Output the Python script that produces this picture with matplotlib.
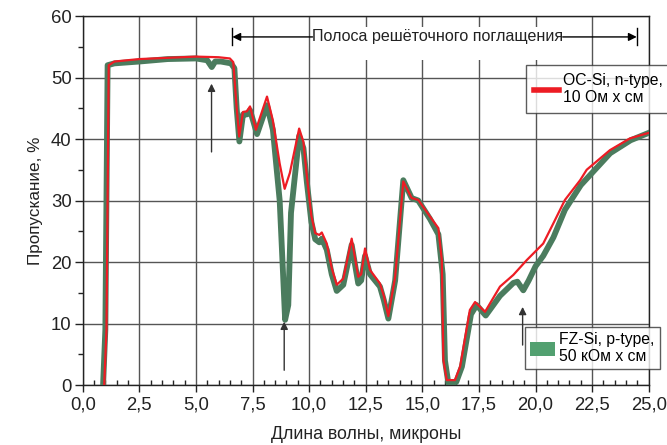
import matplotlib
matplotlib.use('Agg')
import matplotlib.pyplot as plt
from matplotlib.lines import Line2D
from matplotlib.patches import Patch, Rectangle
from matplotlib.ticker import MultipleLocator

plt.rcParams['font.family'] = ['Liberation Sans', 'DejaVu Sans']

# ===== DATA =====
# OC-Si, n-type, 10 Ohm*cm
oc_x = [0.95, 1.05, 1.15, 1.4, 2.5, 3.75, 5.0, 6.0, 6.5, 6.65, 6.78, 6.91, 7.08, 7.25,
        7.39, 7.65, 8.14, 8.4, 8.7, 8.92, 9.15, 9.56, 9.75, 9.9, 10.1, 10.27, 10.45,
        10.56, 10.78, 11.0, 11.22, 11.51, 11.88, 12.17, 12.3, 12.47, 12.69, 13.13,
        13.3, 13.5, 13.8, 14.16, 14.53, 14.82, 15.34, 15.71, 15.86, 15.93, 16.08,
        16.44, 16.67, 17.1, 17.33, 17.77, 18.43, 19.02, 19.61, 20.34, 20.79, 21.3,
        21.97, 22.26, 23.29, 24.17, 25.0]
oc_y = [0, 9, 52.0, 52.6, 53.0, 53.2, 53.4, 53.3, 53.1, 52.5, 46, 40.4, 44.4, 44.5,
        45.3, 41.5, 46.9, 43.0, 36.0, 31.9, 34.5, 41.7, 39.5, 34.0, 27.5, 24.7, 24.4,
        24.8, 23.0, 19.0, 16.3, 17.3, 23.8, 17.6, 18.0, 22.2, 18.7, 16.5,
        14.5, 11.2, 17.6, 33.1, 30.4, 30.1, 27.4, 25.5, 20.3, 4.1, 0.8,
        0.8, 3.0, 12.2, 13.5, 11.9, 16.0, 17.9, 20.3, 23.0, 26.3, 30.1,
        33.3, 35.0, 38.2, 40.1, 41.0]

# FZ-Si, p-type, 50 kOhm*cm
fz_x = [0.9, 1.0, 1.1, 1.4, 2.5, 3.75, 5.0, 5.5, 5.7, 5.85, 6.1, 6.55, 6.7, 6.8, 6.92,
        7.08, 7.25, 7.39, 7.7, 8.14, 8.4, 8.7, 8.85, 8.94, 9.08, 9.2, 9.56, 9.75,
        9.9, 10.1, 10.27, 10.45, 10.56, 10.78, 11.0, 11.22, 11.51, 11.88, 12.17,
        12.3, 12.47, 12.69, 13.13, 13.3, 13.5, 13.8, 14.16, 14.53, 14.82, 15.34,
        15.71, 15.9, 16.0, 16.15, 16.5, 16.75, 17.15, 17.4, 17.8, 18.43, 19.02,
        19.2, 19.46, 19.7, 20.0, 20.34, 20.79, 21.3, 22.0, 22.5, 23.3, 24.2, 25.0]
fz_y = [0, 9, 52.0, 52.3, 52.6, 53.0, 53.1, 52.8, 51.7, 52.6, 52.6, 52.3, 51.5, 45, 39.6,
        44.0, 44.0, 44.7, 40.8, 45.5, 41.5, 30.0, 18.0, 10.6, 13.0, 28.0, 40.5, 38.5,
        33.0, 26.5, 23.7, 23.2, 23.8, 22.0, 18.0, 15.3, 16.3, 22.8, 16.5,
        17.0, 21.0, 18.0, 16.0, 13.8, 10.8, 17.0, 33.3, 30.4, 30.0, 27.0,
        24.5, 18.0, 4.0, 0.3, 0.5, 3.0, 11.5, 13.0, 11.3, 14.5, 16.6,
        16.8, 15.4, 17.0, 19.3, 21.0, 24.0, 28.5, 32.5, 34.5, 37.7, 39.8, 41.0]

x_ticks = [0, 2.5, 5, 7.5, 10, 12.5, 15, 17.5, 20, 22.5, 25]
x_ticklabels = ['0,0', '2,5', '5,0', '7,5', '10,0', '12,5', '15,0', '17,5', '20,0', '22,5', '25,0']
y_ticks = [0, 10, 20, 30, 40, 50, 60]

band_x = [6.61, 24.47]
band_label = 'Полоса решёточного поглащения'
# vertical arrows: (x, tip y, tail y)
arrows = [(5.69, 49.0, 37.9), (8.9, 10.3, 2.4), (19.43, 12.7, 6.5)]

RED = '#ED1C24'
GREEN = '#4B7C5E'
GREEN_PATCH = '#52A070'

# ===== FIGURE =====
fig = plt.figure(figsize=(6.67, 4.45), dpi=100)
ax = fig.add_axes([0.124, 0.1348, 0.8486, 0.8292])

ax.plot(fz_x, fz_y, color=GREEN, lw=4.2, solid_joinstyle='round', zorder=3)
ax.plot(oc_x, oc_y, color=RED, lw=1.6, solid_joinstyle='round', zorder=4)

ax.set_xlim(0, 25)
ax.set_ylim(0, 60)
ax.set_xticks(x_ticks)
ax.set_xticklabels(x_ticklabels)
ax.set_yticks(y_ticks)
ax.xaxis.set_minor_locator(MultipleLocator(0.5))
ax.yaxis.set_minor_locator(MultipleLocator(5))
ax.tick_params(axis='x', which='major', direction='out', length=5, width=1, labelsize=13.3, pad=3)
ax.tick_params(axis='x', which='minor', direction='in', length=3.5, width=1)
ax.tick_params(axis='y', which='major', direction='out', length=6, width=1, labelsize=13.3, pad=2)
ax.tick_params(axis='y', which='minor', direction='out', length=3.5, width=1)
ax.tick_params(which='both', colors='#222222', labelcolor='#222222')
for s in ax.spines.values():
    s.set_color('#222222')
    s.set_linewidth(1)

ax.grid(True, which='major', color='#555555', lw=1)
ax.set_axisbelow(True)

ax.set_xlabel('Длина волны, микроны', fontsize=12.8, color='#222222', labelpad=9)
ax.set_ylabel('Пропускание, %', fontsize=12.3, color='#222222', labelpad=6)

# absorption band marker
ax.add_patch(Rectangle((10.1, 52.8), 11.1, 5.4, facecolor='white', edgecolor='none', zorder=2))
ax.text(15.67, 56.6, band_label, fontsize=11.6, ha='center', va='center', color='#222222',
        zorder=5)
ax.annotate('', xy=(band_x[0], 56.6), xytext=(10.15, 56.6),
            arrowprops=dict(arrowstyle='-|>', color='black', lw=1, mutation_scale=12,
                            shrinkA=0, shrinkB=0), zorder=5)
ax.annotate('', xy=(band_x[1], 56.6), xytext=(21.2, 56.6),
            arrowprops=dict(arrowstyle='-|>', color='black', lw=1, mutation_scale=12,
                            shrinkA=0, shrinkB=0), zorder=5)
for bx in band_x:
    ax.plot([bx, bx], [55.3, 58.0], color='black', lw=1, zorder=5)

for ax_x, tip, tail in arrows:
    ax.annotate('', xy=(ax_x, tip), xytext=(ax_x, tail),
                arrowprops=dict(arrowstyle='-|>', color='#333333', lw=1, mutation_scale=11,
                                shrinkA=0, shrinkB=0), zorder=5)

# legends
leg1 = fig.legend(handles=[Line2D([], [], color=RED, lw=4)],
                  labels=['OC-Si, n-type,\n10 Ом x см'],
                  loc='upper left', bbox_to_anchor=(0.789, 0.854), fontsize=11.3,
                  frameon=True, fancybox=False, borderpad=0.5, handlelength=1.6,
                  handletextpad=0.25, borderaxespad=0)
leg1.get_frame().set_edgecolor('#333333')
leg1.get_frame().set_linewidth(1)

leg2 = fig.legend(handles=[Patch(facecolor=GREEN_PATCH, edgecolor='none')],
                  labels=['FZ-Si, p-type,\n50 кОм x см'],
                  loc='upper left', bbox_to_anchor=(0.787, 0.265), fontsize=11.3,
                  frameon=True, fancybox=False, borderpad=0.3, handlelength=1.6,
                  handleheight=1.0, handletextpad=0.3, borderaxespad=0)
leg2.get_frame().set_edgecolor('#333333')
leg2.get_frame().set_linewidth(1)

fig.savefig('out.png', dpi=100)
